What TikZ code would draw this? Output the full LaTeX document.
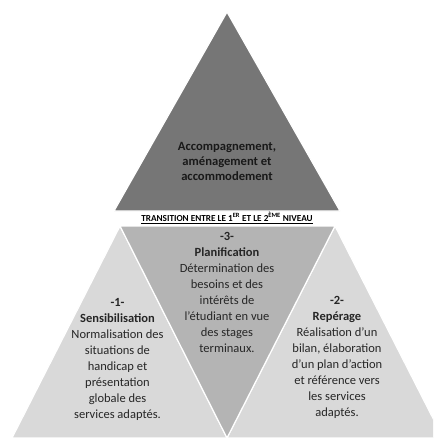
\documentclass[tikz,border=0pt]{standalone}
\usepackage{fontspec}
\setmainfont{Carlito}
\begin{document}
\begin{tikzpicture}[x=1pt,y=-1pt,
  tri/.style={draw=white,line width=1.2pt,line join=miter},
  body/.style={align=center,text=black!85,font=\fontsize{12.5}{15.9}\selectfont,inner sep=0pt},
  toptext/.style={align=center,text=black!90,font=\bfseries\fontsize{12.6}{14.8}\selectfont,inner sep=0pt},
  trans/.style={text=black,font=\bfseries\fontsize{9.2}{10}\selectfont,inner sep=0pt}]
\definecolor{darkg}{RGB}{118,118,118}
\definecolor{midg}{RGB}{180,180,180}
\definecolor{lightg}{RGB}{217,217,217}
\useasboundingbox (0,0) rectangle (433,438);
\clip (0,0) rectangle (433,438);
% top triangle
\fill[darkg,tri] (114,211) -- (340,211) -- (227,12) -- cycle;
% bottom row
\filldraw[fill=lightg,tri] (120,226) -- (227,438) -- (12,438) -- cycle;
\filldraw[fill=lightg,tri] (335,226) -- (443,438) -- (227,438) -- cycle;
\filldraw[fill=midg,tri] (120,226) -- (335,226) -- (227,438) -- cycle;
% texts
\node[toptext] (top) at (227,161.5) {Accompagnement,\\aménagement et\\accommodement};
\node[trans] (tr) at (227,218) {\underline{TRANSITION ENTRE LE 1\textsuperscript{ER} ET LE 2\textsuperscript{ÈME} NIVEAU}};
\node[body] (mid) at (227,292.5) {\textbf{-3-}\\\textbf{Planification}\\Détermination des\\besoins et des\\intérêts de\\l’étudiant en vue\\des stages\\terminaux.};
\node[body] (left) at (117.5,359.5) {\textbf{-1-}\\\textbf{Sensibilisation}\\Normalisation des\\situations de\\handicap et\\présentation\\globale des\\services adaptés.};
\node[body] (right) at (337,357.5) {\textbf{-2-}\\\textbf{Repérage}\\Réalisation d’un\\bilan, élaboration\\d’un plan d’action\\et référence vers\\les services\\adaptés.};
\end{tikzpicture}
\end{document}
